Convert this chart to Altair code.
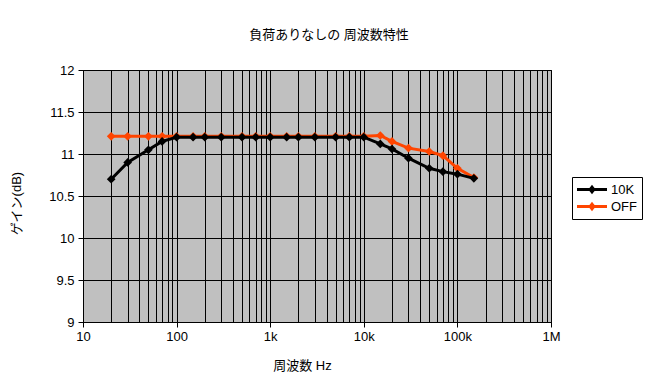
import altair as alt
import pandas as pd

# ---- data ----
freq = [20, 30, 50, 70, 100, 150, 200, 300, 500, 700, 1000, 1500, 2000, 3000,
        5000, 7000, 10000, 15000, 20000, 30000, 50000, 70000, 100000, 150000]
gain_10k = [10.70, 10.90, 11.05, 11.15, 11.20, 11.20, 11.20, 11.20, 11.20, 11.20,
            11.20, 11.20, 11.20, 11.20, 11.20, 11.20, 11.20, 11.12, 11.06, 10.95,
            10.83, 10.79, 10.76, 10.71]
gain_off = [11.21, 11.21, 11.21, 11.21, 11.21, 11.21, 11.21, 11.21, 11.21, 11.21,
            11.21, 11.21, 11.21, 11.21, 11.21, 11.21, 11.21, 11.22, 11.15, 11.07,
            11.03, 10.98, 10.83, 10.72]
series_names = ["10K", "OFF"]
series_colors = ["#000000", "#FF4500"]
x_grid_values = [10, 20, 30, 40, 50, 60, 70, 80, 90,
                 100, 200, 300, 400, 500, 600, 700, 800, 900,
                 1000, 2000, 3000, 4000, 5000, 6000, 7000, 8000, 9000,
                 10000, 20000, 30000, 40000, 50000, 60000, 70000, 80000, 90000,
                 100000, 200000, 300000, 400000, 500000, 600000, 700000, 800000, 900000,
                 1000000]
y_tick_values = [9, 9.5, 10, 10.5, 11, 11.5, 12]

rows = []
for f, g in zip(freq, gain_off):
    rows.append({"freq": f, "gain": g, "series": "OFF"})
for f, g in zip(freq, gain_10k):
    rows.append({"freq": f, "gain": g, "series": "10K"})
df = pd.DataFrame(rows)

FONT = "Liberation Sans, Arial, Noto Sans CJK JP"

label_expr = ("datum.value==10?'10':datum.value==100?'100':datum.value==1000?'1k':"
              "datum.value==10000?'10k':datum.value==100000?'100k':"
              "datum.value==1000000?'1M':''")
decade_test = "indexof([10,100,1000,10000,100000,1000000], datum.value) >= 0"

x_enc = alt.X(
    "freq:Q",
    scale=alt.Scale(type="log", domain=[10, 1000000], nice=False),
    axis=alt.Axis(
        values=x_grid_values,
        grid=True,
        labelExpr=label_expr,
        labelOverlap=False,
        labelFlush=False,
        tickOpacity={"condition": {"test": decade_test, "value": 1}, "value": 0},
        tickSize=5,
        labelPadding=3,
        title="周波数 Hz",
        titleX=219,
        titleY=43,
        titleAlign="center",
        titleBaseline="middle",
    ),
)
y_enc = alt.Y(
    "gain:Q",
    scale=alt.Scale(domain=[9, 12], zero=False, nice=False),
    axis=alt.Axis(
        values=y_tick_values,
        format="~g",
        grid=True,
        tickSize=5,
        labelPadding=4,
        title="ゲイン(dB)",
        titleAngle=-90,
        titleX=-67,
        titleY=133,
        titleAlign="center",
        titleBaseline="middle",
    ),
)

legend_symbol = "M-1,-0.2L3,-0.2L3,0.2L-1,0.2Z M1,-0.62L1.5,0L1,0.62L0.5,0Z"

color_enc = alt.Color(
    "series:N",
    scale=alt.Scale(domain=series_names, range=series_colors),
    legend=alt.Legend(
        title=None,
        orient="none",
        legendX=489,
        legendY=107,
        padding=5,
        strokeColor="black",
        fillColor="white",
        cornerRadius=0,
        symbolType=legend_symbol,
        symbolSize=225,
        symbolStrokeWidth=0,
        labelOffset=19,
        rowPadding=2,
        labelFont=FONT,
        labelFontSize=13,
        labelColor="black",
    ),
)

base = alt.Chart(df)


def series_layers(name):
    sub = base.transform_filter(alt.datum.series == name)
    line = sub.mark_line(strokeWidth=3).encode(x=x_enc, y=y_enc, color=color_enc)
    pts = sub.mark_point(shape="diamond", filled=True, size=75, opacity=1).encode(
        x=x_enc, y=y_enc, color=color_enc
    )
    return [line, pts]


chart = alt.layer(*series_layers("OFF"), *series_layers("10K")).properties(
    width=468,
    height=252,
    autosize=alt.AutoSizeParams(type="none"),
    padding={"left": 75, "top": 62, "right": 110, "bottom": 55},
    title=alt.TitleParams(
        "負荷ありなしの 周波数特性",
        font=FONT,
        fontSize=13,
        fontWeight="normal",
        color="black",
        anchor="middle",
        frame="group",
        dx=12,
        offset=22,
    ),
).configure_view(
    fill="#C0C0C0", stroke="black", strokeWidth=1
).configure_axis(
    domainColor="black",
    tickColor="black",
    gridColor="black",
    gridWidth=1,
    gridOpacity=1,
    labelColor="black",
    labelFont=FONT,
    labelFontSize=13,
    titleColor="black",
    titleFont=FONT,
    titleFontSize=13,
    titleFontWeight="normal",
).configure_legend(
    symbolFillColor="black"
)

chart.save("out.html", embed_options={"renderer": "svg", "actions": False})
